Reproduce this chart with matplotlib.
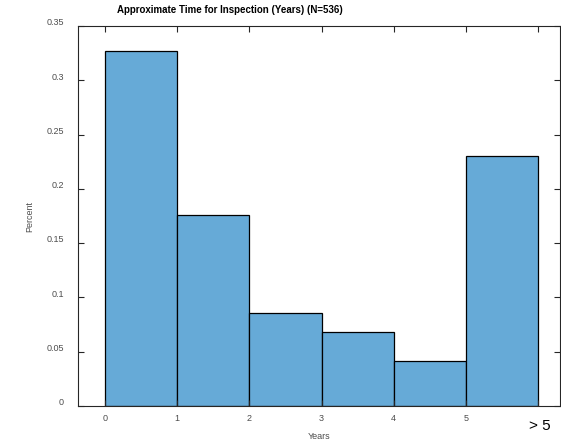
import numpy as np
import matplotlib
matplotlib.use("Agg")
import matplotlib.pyplot as plt
import matplotlib.transforms as mtransforms

plt.rcParams["font.family"] = ["Liberation Sans", "DejaVu Sans"]

# histogram of inspection time, one unit-wide bin per year, last bin is "> 5"
bin_edges = [0, 1, 2, 3, 4, 5, 6]
fractions = [0.3266, 0.1759, 0.0854, 0.0679, 0.0417, 0.2305]
tick_labels = ["0", "1", "2", "3", "4", "5", ""]
yticks = [0, 0.05, 0.1, 0.15, 0.2, 0.25, 0.3, 0.35]
ytick_labels = ["0", "0.05", "0.1", "0.15", "0.2", "0.25", "0.3", "0.35"]

FACE = (0.4, 0.668, 0.845)   # MATLAB blue at 60% alpha on white
AXIS_GRAY = "#262626"
LABEL_GRAY = "#4d4d4d"

fig = plt.figure(figsize=(5.61, 4.45), dpi=100)
ax = fig.add_axes([0.139, 0.0876, 0.8587, 0.854])

lefts = np.array(bin_edges[:-1])
widths = np.diff(bin_edges)
ax.bar(lefts, fractions, width=widths, align="edge", color=FACE,
       edgecolor="black", linewidth=0.9)

ax.set_xlim(-0.375, 6.3)
ax.set_ylim(0, 0.35)
ax.set_xticks(bin_edges)
ax.set_xticklabels(tick_labels)
ax.set_yticks(yticks)
ax.set_yticklabels(ytick_labels)

ax.tick_params(direction="in", length=4, width=0.8, colors=AXIS_GRAY,
               labelcolor=LABEL_GRAY, labelsize=6.5, top=True, right=True)
ax.tick_params(axis="x", pad=6)
ax.tick_params(axis="y", pad=10)
for s in ax.spines.values():
    s.set_color(AXIS_GRAY)
    s.set_linewidth(0.8)

# nudge y labels up a little, the way the exported figure sits
shift = mtransforms.ScaledTranslation(0, 3 / 72, fig.dpi_scale_trans)
for lbl in ax.get_yticklabels():
    lbl.set_transform(lbl.get_transform() + shift)

# last bin label, drawn larger than the rest
ax.text(6.03, -0.018, "> 5", ha="center", va="center", fontsize=11,
        color="black", transform=ax.transData, clip_on=False)

ax.set_xlabel("Years", fontsize=6.5, color=LABEL_GRAY, labelpad=6)
ax.set_ylabel("Percent", fontsize=6.5, color=LABEL_GRAY, labelpad=9)
fig.text(230 / 561, 1 - 10 / 445, "Approximate Time for Inspection (Years) (N=536)",
         ha="center", va="center", fontsize=7, fontweight="bold", color="black")

fig.savefig("out.png", dpi=100)
